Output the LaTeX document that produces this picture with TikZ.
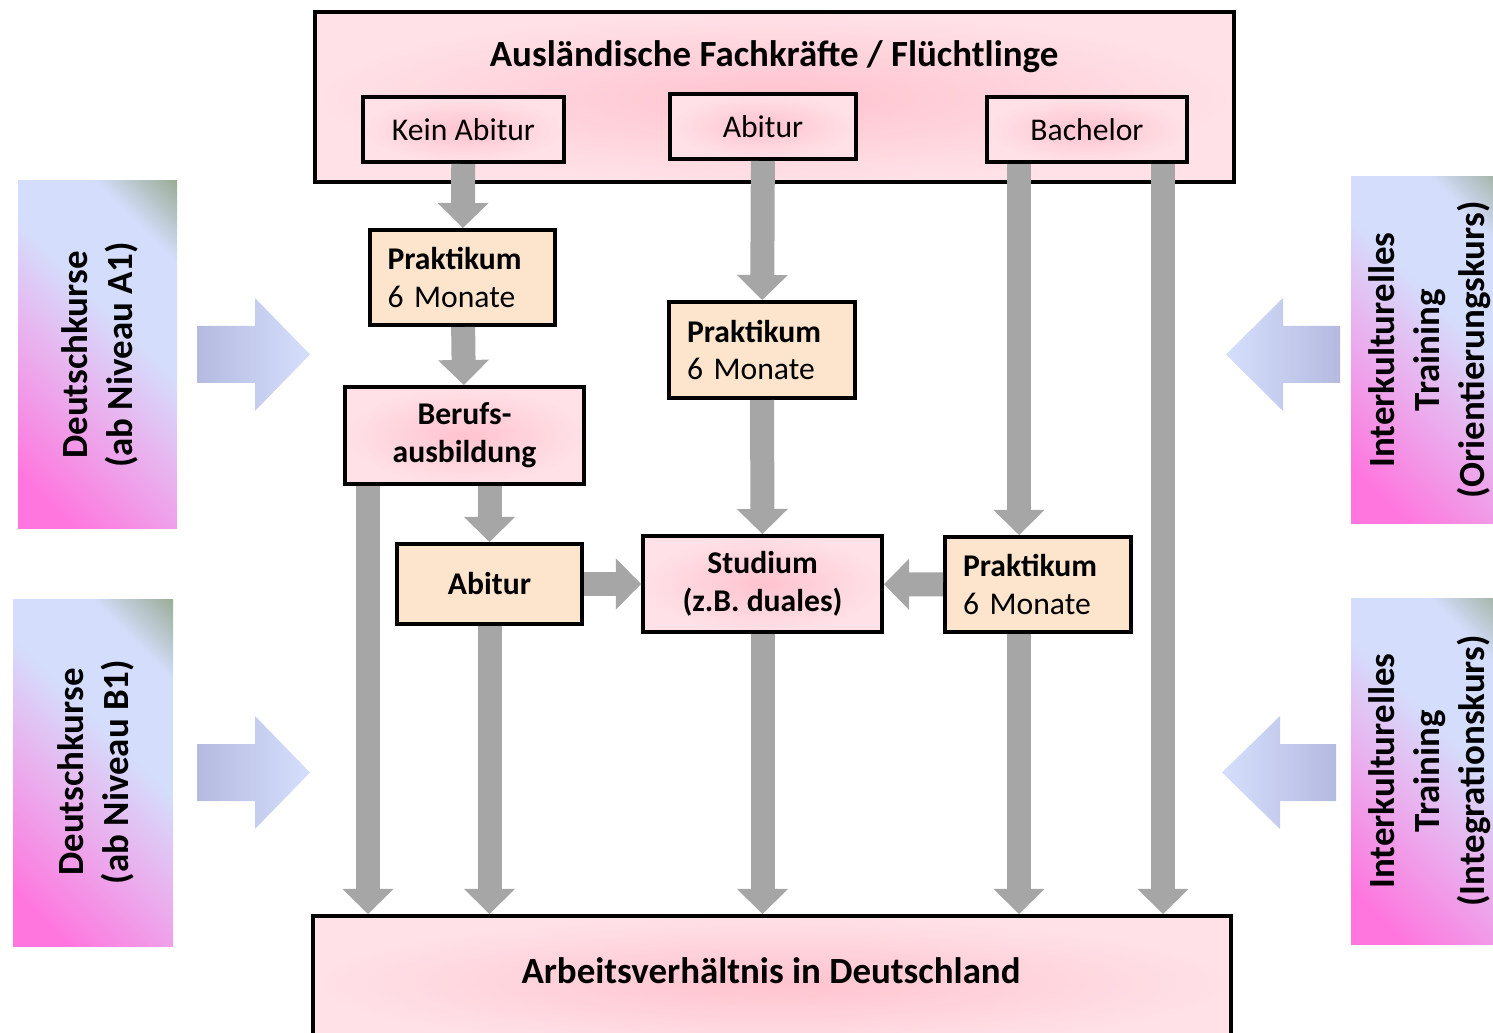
\documentclass[tikz,border=0pt]{standalone}
\usepackage{fontspec}
\setmainfont{Carlito}
\usetikzlibrary{arrows.meta}

\definecolor{pinkin}{HTML}{FFC3CF}
\definecolor{pinkout}{HTML}{FFE1E7}
\definecolor{peach}{HTML}{FDE4CC}
\definecolor{flowgray}{HTML}{A6A6A6}
\definecolor{bluedark}{HTML}{B5BAE0}
\definecolor{bluelight}{HTML}{D5DFFC}
\definecolor{sidemag}{HTML}{FF76DE}
\definecolor{sidelav}{HTML}{E6B8F0}
\definecolor{sideblue}{HTML}{D4DEFC}
\definecolor{sidegreen}{HTML}{98AA92}

\pgfdeclarehorizontalshading{sidegrad}{100bp}{color(0bp)=(sidemag); color(22bp)=(sidemag); color(45bp)=(sidelav); color(58bp)=(sideblue); color(74bp)=(sideblue); color(86bp)=(sidegreen); color(100bp)=(sidegreen)}

\tikzset{
  pinkbox/.style={draw, line width=2.3pt, inner color=pinkin, outer color=pinkout, align=center},
  peachbox/.style={draw, line width=2.3pt, fill=peach},
  sidebox/.style={shading=sidegrad, shading angle=45},
  boxfont/.style={font=\fontsize{18}{21.6}\selectfont},
  bigfont/.style={font=\fontsize{21}{25}\selectfont\bfseries},
  sidefont/.style={font=\fontsize{21}{25.6}\selectfont\bfseries, align=center, rotate=90},
  flow/.style={draw=flowgray, line width=0.48cm, -{Triangle[width=1.02cm, length=0.5cm, line width=0pt]}},
  bluearrow/.style={left color=bluedark, right color=bluelight},
  bluearrowr/.style={left color=bluelight, right color=bluedark}
}

\begin{document}
\begin{tikzpicture}[x=0.02cm, y=-0.02cm, inner sep=0pt, boxfont]
\def\u{0.02cm}
\useasboundingbox (0,0) rectangle (1493,1033);

% side courses
\node[sidebox, minimum width=159*\u, minimum height=347*\u] (dA1) at (97.5,354.5) {};
\node[sidefont] (tA1) at (100,355) {Deutschkurse\\(ab Niveau A1)};
\node[sidebox, minimum width=160*\u, minimum height=347*\u] (dB1) at (93,772.5) {};
\node[sidefont] (tB1) at (96,772) {Deutschkurse\\(ab Niveau B1)};
\node[sidebox, minimum width=160*\u, minimum height=346*\u] (iOr) at (1431,350) {};
\node[sidefont] (tOr) at (1430,350) {Interkulturelles\\Training\\(Orientierungskurs)};
\node[sidebox, minimum width=160*\u, minimum height=346*\u] (iIn) at (1431,771) {};
\node[sidefont] (tIn) at (1430,771) {Interkulturelles\\Training\\(Integrationskurs)};

\shade[bluearrow] (197,326) -- (255,326) -- (255,298) -- (310,354.5) -- (255,411) -- (255,383) -- (197,383) -- cycle;
\shade[bluearrow] (197,744) -- (255,744) -- (255,716) -- (310,772.5) -- (255,829) -- (255,801) -- (197,801) -- cycle;
\shade[bluearrowr] (1340,326) -- (1283,326) -- (1283,298) -- (1226,354.5) -- (1283,411) -- (1283,383) -- (1340,383) -- cycle;
\shade[bluearrowr] (1336,744) -- (1280,744) -- (1280,716) -- (1222,772.5) -- (1280,829) -- (1280,801) -- (1336,801) -- cycle;

% top and bottom
\node[pinkbox, minimum width=919*\u, minimum height=170*\u] (top) at (774.5,97) {};
\node[bigfont] (title) at (774,57) {Ausländische Fachkräfte / Flüchtlinge};
\node[pinkbox, minimum width=201*\u, minimum height=65*\u] (kein) at (463.5,129.5) {Kein Abitur};
\node[pinkbox, minimum width=186*\u, minimum height=65*\u] (abi) at (763,126.5) {Abitur};
\node[pinkbox, minimum width=200*\u, minimum height=65*\u] (bach) at (1087,129.5) {Bachelor};

\node[pinkbox, minimum width=918*\u, minimum height=134*\u] (arb) at (772,983) {};
\node[bigfont] (arbtxt) at (771,971) {Arbeitsverhältnis in Deutschland};

% middle
\node[peachbox, minimum width=185*\u, minimum height=95*\u, text width=150*\u, align=left] (prak1) at (462.5,277.5) {\textbf{Praktikum}\\6 Monate};
\node[pinkbox, minimum width=239*\u, minimum height=97*\u, font=\fontsize{18}{21.6}\selectfont\bfseries] (beruf) at (464.5,435.5) {Berufs-\\ausbildung};
\node[peachbox, minimum width=186*\u, minimum height=96*\u, text width=150*\u, align=left] (prak2) at (762,350) {\textbf{Praktikum}\\6 Monate};
\node[peachbox, minimum width=185*\u, minimum height=80*\u, font=\fontsize{18}{21.6}\selectfont\bfseries] (abibox) at (489.5,584) {Abitur};
\node[pinkbox, minimum width=239*\u, minimum height=96*\u, font=\fontsize{18}{21.6}\selectfont\bfseries] (stud) at (762.5,584) {Studium\\(z.B. duales)};
\node[peachbox, minimum width=186*\u, minimum height=95*\u, text width=150*\u, align=left] (prak3) at (1038,584.5) {\textbf{Praktikum}\\6 Monate};

\coordinate (e1) at (368,914);
\coordinate (e2) at (1019,914);
\coordinate (e3) at (1163,914);

\draw[flow] (kein) -- (prak1);
\draw[flow] (prak1) -- (beruf);
\draw[flow] (abi) -- (prak2);
\draw[flow] (prak2) -- (stud);
\draw[flow] (abibox.north |- beruf.south) -- (abibox.north);
\draw[flow] (e1 |- beruf.south) -- (e1 |- arb.north);
\draw[flow] (abibox.south) -- (abibox.south |- arb.north);
\draw[flow] (stud.south) -- (stud.south |- arb.north);
\draw[flow] (e2 |- bach.south) -- (e2 |- prak3.north);
\draw[flow] (e2 |- prak3.south) -- (e2 |- arb.north);
\draw[flow] (e3 |- bach.south) -- (e3 |- arb.north);
\draw[flow] (abibox) -- (stud);
\draw[flow] (prak3) -- (stud);
\end{tikzpicture}
\end{document}
